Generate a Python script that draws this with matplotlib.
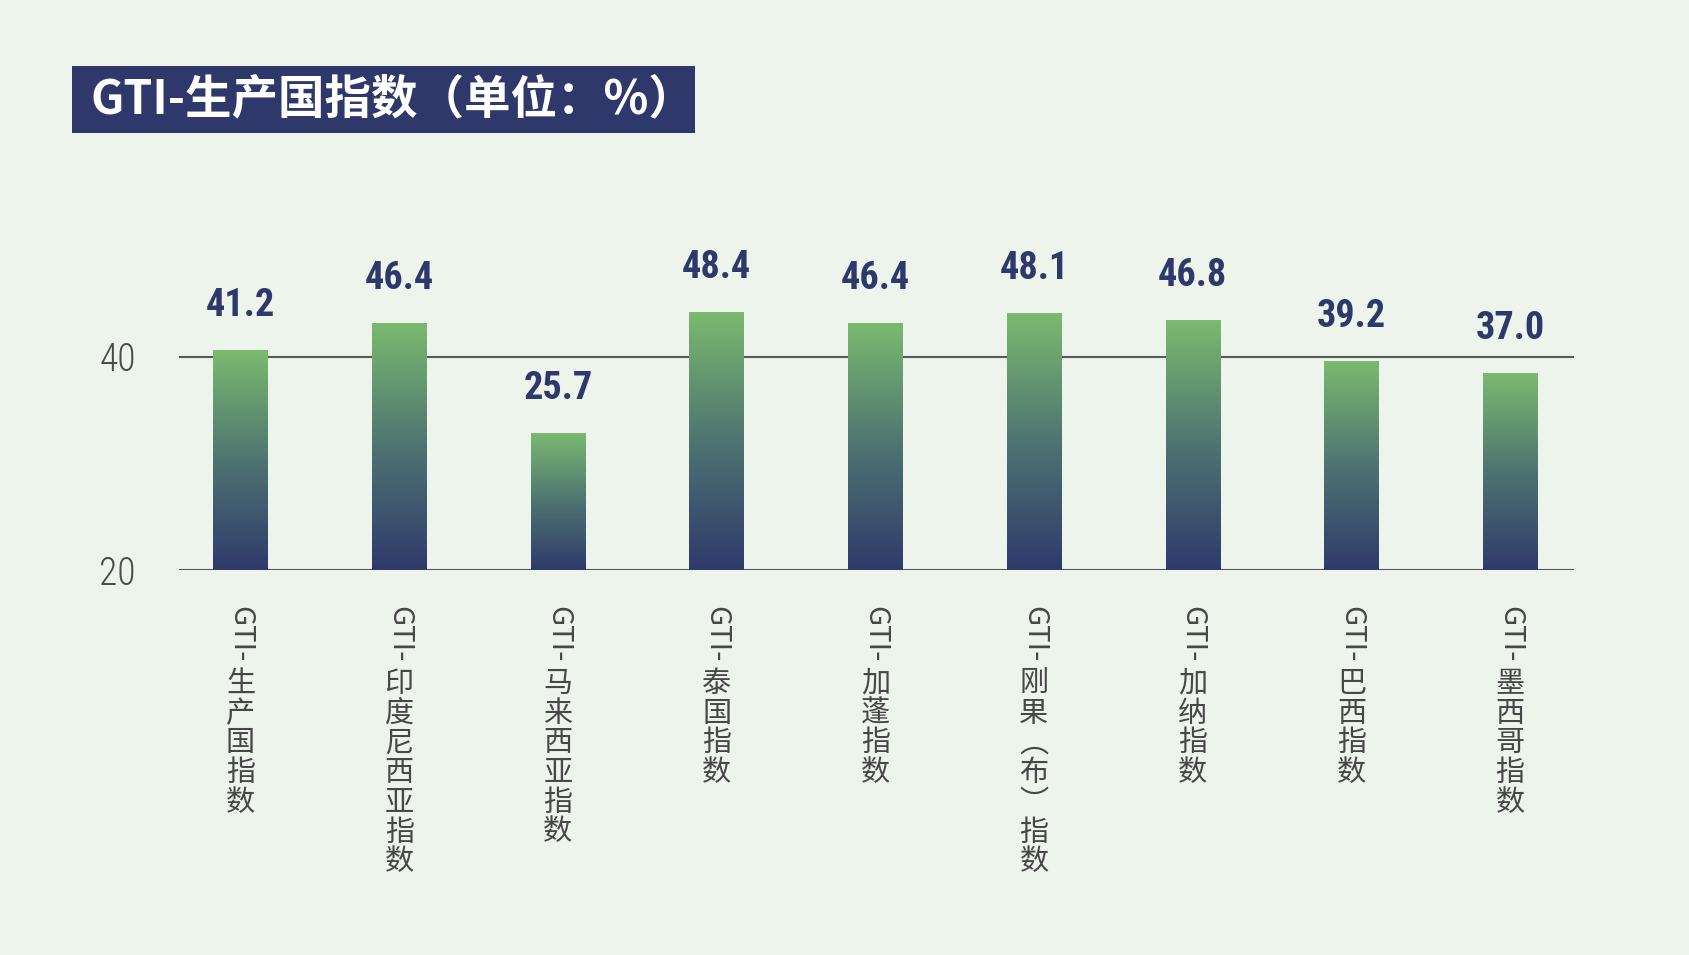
import os
import numpy as np
import matplotlib
matplotlib.use("Agg")
import matplotlib.pyplot as plt
from matplotlib import font_manager
from matplotlib.font_manager import FontProperties
from matplotlib.colors import LinearSegmentedColormap
from matplotlib.patches import Rectangle

# ---- data ----
categories = ["GTI-生产国指数", "GTI-印度尼西亚指数", "GTI-马来西亚指数", "GTI-泰国指数",
              "GTI-加蓬指数", "GTI-刚果（布）指数", "GTI-加纳指数", "GTI-巴西指数", "GTI-墨西哥指数"]
values = [41.2, 46.4, 25.7, 48.4, 46.4, 48.1, 46.8, 39.2, 37.0]
axis_ticks = [20, 40]
title = "GTI-生产国指数（单位：%）"

# ---- styles ----
BG = "#EDF4EC"
NAVY = "#2E386B"
GRID = "#555858"
LABEL = "#474747"
CJK = ["Noto Sans CJK SC", "DejaVu Sans"]


def find_font(bold):
    files = [f.fname for f in font_manager.fontManager.ttflist]
    prefs_bold = ["liberationsansnarrow-bold.", "notosans-condensedbold", "notosans-condensedsemibold",
                  "robotocondensed-bold", "dejavusanscondensed-bold", "opensans-condensedbold",
                  "opensans_condensed-bold"]
    prefs_reg = ["liberationsansnarrow-regular", "notosans-condensedlight", "notosans-condensed.",
                 "notosans-condensedregular", "robotocondensed-light", "robotocondensed-regular",
                 "dejavusanscondensed.", "opensans-condensedlight"]
    for p in (prefs_bold if bold else prefs_reg):
        for f in files:
            if p in os.path.basename(f).lower():
                return FontProperties(fname=f), True
    for f in files:
        b = os.path.basename(f).lower()
        if ("narrow" in b or "condensed" in b) and ("bold" in b) == bold and "italic" not in b:
            return FontProperties(fname=f), True
    return FontProperties(family="DejaVu Sans", weight="bold" if bold else "normal"), False


VAL_FP, val_ok = find_font(True)
TICK_FP, tick_ok = find_font(False)
VAL_FP.set_size(27.5 if val_ok else 24)
TICK_FP.set_size(27 if tick_ok else 22)

W, H, DPI = 16.9, 9.55, 100
fig = plt.figure(figsize=(W, H), dpi=DPI, facecolor=BG)
ax = fig.add_axes([179 / 1690, 1 - 570 / 955, (1574 - 179) / 1690, 373.3 / 955])
ax.set_facecolor(BG)
for s in ax.spines.values():
    s.set_visible(False)
ax.set_xticks([])
ax.set_yticks([])

# displayed scale: bars start at 20, value v drawn as 20 + v/2
sec = ax.secondary_yaxis("left", functions=(lambda v: 20 + v / 2, lambda y: 2 * (y - 20)))
sec.set_yticks(axis_ticks)
sec.tick_params(length=0, pad=31, labelcolor="#4a4a4a")
for lab in sec.get_yticklabels():
    lab.set_fontproperties(TICK_FP)
sec.spines["left"].set_visible(False)

for t in axis_ticks:
    ax.axhline(2 * (t - 20), color=GRID, lw=1.5, zorder=1)

cmap = LinearSegmentedColormap.from_list("g", [(0.0, "#2F3A6B"), (0.5, "#4E7472"), (1.0, "#7BBA6F")])
grad = np.linspace(0, 1, 256).reshape(-1, 1)
x = np.arange(len(values))
bars = ax.bar(x, values, width=0.342, color="none", zorder=2)
for b, v in zip(bars, values):
    x0, w, h = b.get_x(), b.get_width(), b.get_height()
    im = ax.imshow(grad, cmap=cmap, origin="lower", aspect="auto",
                   extent=(x0, x0 + w, 0, h), zorder=3, interpolation="bilinear")
    im.set_clip_path(b)
    ax.annotate(f"{v:.1f}", xy=(x0 + w / 2, h), xytext=(0, 34 * 0.72),
                textcoords="offset points", ha="center", va="baseline",
                fontproperties=VAL_FP, color=NAVY, zorder=4)
ax.set_xlim(-0.3875, 8.403)
ax.set_ylim(0, 70)

# vertical category labels
vert = {"（": "︵", "）": "︶"}
for i, cat in enumerate(categories):
    latin, rest = cat[:4], cat[4:]
    ax.annotate(latin, xy=(i, 0), xycoords="data", xytext=(0, -36.5),
                textcoords="offset pixels", rotation=-90, ha="center", va="top",
                fontsize=21, color=LABEL, family=CJK, annotation_clip=False)
    for k, ch in enumerate(rest):
        ax.annotate(vert.get(ch, ch), xy=(i, 0), xycoords="data",
                    xytext=(0, -(114 + 29.7 * k)), textcoords="offset pixels",
                    ha="center", va="center", fontsize=21, color=LABEL,
                    family=CJK, annotation_clip=False)

# title box
fig.patches.append(Rectangle((72 / 1690, 1 - 133 / 955), (695 - 72) / 1690, 67 / 955,
                             transform=fig.transFigure, facecolor=NAVY, edgecolor="none"))
fig.text(91 / 1690, 1 - 99 / 955, title, ha="left", va="center", fontsize=33.5,
         fontweight="bold", color="white", family=CJK)

fig.savefig("out.png", dpi=DPI, facecolor=BG)
